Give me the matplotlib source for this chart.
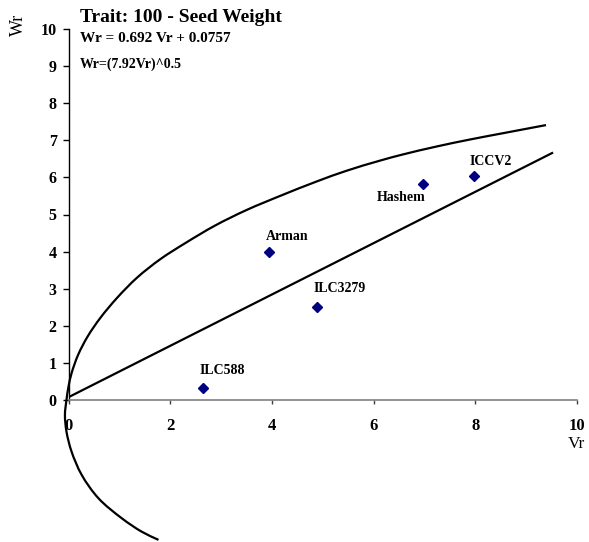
import matplotlib
matplotlib.use("Agg")
import matplotlib.pyplot as plt
import numpy as np
from matplotlib.path import Path
from matplotlib.patches import PathPatch

# Parents (Vr, Wr)
names = ["ILC588", "Arman", "ILC3279", "Hashem", "ICCV2"]
vr = [2.64, 3.94, 4.89, 6.97, 7.97]
wr = [0.32, 3.99, 2.51, 5.81, 6.04]

# Regression line
slope = 0.692
intercept = 0.0757
line_x = [0.0, 9.51]

# Limiting parabola, points
curve_x = [1.77, 1.44, 1.05, 0.59, 0.26, 0.06, -0.04, -0.07, -0.04, 0.0, 0.06,
           0.19, 0.38, 0.63, 0.96, 1.35, 1.81, 2.31, 2.88, 3.50, 4.16, 4.88,
           5.47, 6.12, 6.58, 7.23, 7.89, 8.54, 9.39]
curve_y = [-3.77, -3.55, -3.19, -2.65, -2.02, -1.39, -0.85, -0.40, 0.0, 0.36, 0.72,
           1.22, 1.72, 2.22, 2.76, 3.30, 3.80, 4.24, 4.70, 5.12, 5.50, 5.89,
           6.18, 6.45, 6.62, 6.83, 7.02, 7.19, 7.41]

x_ticks = [0, 2, 4, 6, 8, 10]
y_ticks = list(range(0, 11))

label_pos = {"ILC588": (-0.06, 0.47, "left"), "Arman": (-0.06, 0.41, "left"),
             "ILC3279": (-0.07, 0.5, "left"), "Hashem": (0.05, -0.36, "right"),
             "ICCV2": (-0.08, 0.4, "left")}

serif = ["Liberation Serif", "DejaVu Serif"]
plt.rcParams["font.family"] = serif

W, H = 589, 542
x0p, x10p = 68.5, 577.0
y0p, ppu = 400.0, 37.1
ppx = (x10p - x0p) / 10.0


def smooth_path(xs, ys, alpha=0.5):
    """Centripetal Catmull-Rom curve through the points, as cubic Bezier segments."""
    sc = np.array([ppx, ppu])
    P = np.column_stack([xs, ys]).astype(float) * sc
    P = np.vstack([2 * P[0] - P[1], P, 2 * P[-1] - P[-2]])
    verts = [P[1]]
    codes = [Path.MOVETO]
    for i in range(1, len(P) - 2):
        p0, p1, p2, p3 = P[i - 1], P[i], P[i + 1], P[i + 2]
        d1 = np.linalg.norm(p1 - p0) ** alpha
        d2 = np.linalg.norm(p2 - p1) ** alpha
        d3 = np.linalg.norm(p3 - p2) ** alpha
        b1 = (d1 ** 2 * p2 - d2 ** 2 * p0 + (2 * d1 ** 2 + 3 * d1 * d2 + d2 ** 2) * p1) / (3 * d1 * (d1 + d2))
        b2 = (d3 ** 2 * p1 - d2 ** 2 * p3 + (2 * d3 ** 2 + 3 * d3 * d2 + d2 ** 2) * p2) / (3 * d3 * (d3 + d2))
        verts += [b1, b2, p2]
        codes += [Path.CURVE4] * 3
    return Path(np.array(verts) / sc, codes)


fig = plt.figure(figsize=(5.89, 5.42), dpi=100)
ymin, ymax = -3.8, 10.0
ax = fig.add_axes([x0p / W, 1 - (y0p - ymin * ppu) / H,
                   (x10p - x0p) / W, (ymax - ymin) * ppu / H])
ax.set_xlim(0, 10)
ax.set_ylim(ymin, ymax)

ax.add_patch(PathPatch(smooth_path(curve_x, curve_y), facecolor="none",
                       edgecolor="black", lw=1.6, clip_on=False, zorder=3))
ax.plot(line_x, [slope * v + intercept for v in line_x], color="black", lw=1.6, zorder=3)
ax.plot(vr, wr, linestyle="none", marker="D", color="#000080", markersize=5, zorder=4)

for n, xv, yv in zip(names, vr, wr):
    dx, dy, ha = label_pos[n]
    ax.text(xv + dx, yv + dy, n, fontsize=10, fontweight="bold", ha=ha, va="center")

for s in ["top", "right"]:
    ax.spines[s].set_visible(False)
ax.spines["left"].set_bounds(0, 10)
ax.spines["left"].set_color("black")
ax.spines["left"].set_linewidth(1.0)
ax.spines["bottom"].set_position(("data", 0))
ax.spines["bottom"].set_color("#808080")
ax.spines["bottom"].set_linewidth(1.2)
ax.spines["bottom"].set_bounds(0, 10)

ax.set_xticks(x_ticks)
ax.set_yticks(y_ticks)
ax.tick_params(axis="y", direction="out", length=4.5, width=1, pad=4, labelsize=11.5)
ax.tick_params(axis="x", direction="out", length=3, width=1, pad=10, labelsize=12,
               color="#404040")
for lab in ax.get_xticklabels() + ax.get_yticklabels():
    lab.set_fontweight("bold")

fig.text(80 / W, 1 - 17 / H, "Trait: 100 - Seed Weight", fontsize=14, fontweight="bold",
         ha="left", va="center")
fig.text(80 / W, 1 - 39 / H, "Wr = 0.692 Vr + 0.0757", fontsize=11, fontweight="bold",
         ha="left", va="center")
fig.text(80 / W, 1 - 64 / H, "Wr=(7.92Vr)^0.5", fontsize=10, fontweight="bold",
         ha="left", va="center")
fig.text(18 / W, 1 - 25 / H, "Wr", fontsize=13, rotation=90, ha="center", va="center")
fig.text(568 / W, 1 - 444 / H, "Vr", fontsize=12.5, ha="left", va="center")

fig.savefig("out.png", dpi=100)
